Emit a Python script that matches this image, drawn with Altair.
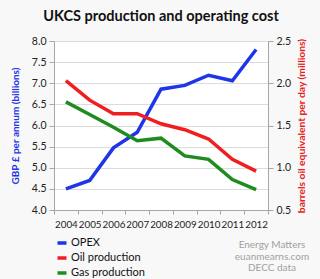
import altair as alt
import pandas as pd

years = ["2004", "2005", "2006", "2007", "2008", "2009", "2010", "2011", "2012"]
opex = [4.50, 4.70, 5.47, 5.84, 6.86, 6.95, 7.19, 7.06, 7.80]
oil = [2.03, 1.80, 1.64, 1.64, 1.52, 1.45, 1.34, 1.10, 0.96]
gas = [1.78, 1.63, 1.48, 1.32, 1.35, 1.14, 1.10, 0.86, 0.74]
series_names = ["OPEX", "Oil production", "Gas production"]
series_colors = ["#1f35e8", "#f01e1e", "#1e8c1e"]
left_ticks = [4.0, 4.5, 5.0, 5.5, 6.0, 6.5, 7.0, 7.5, 8.0]
right_ticks = [0.5, 1.0, 1.5, 2.0, 2.5]
credits = ["Energy Matters", "euanmearns.com", "DECC data"]

FONT = "Lato"

df_left = pd.DataFrame({"year": years, "value": opex, "series": "OPEX"})
df_right = pd.concat([
    pd.DataFrame({"year": years, "value": oil, "series": "Oil production"}),
    pd.DataFrame({"year": years, "value": gas, "series": "Gas production"}),
])

xenc = alt.X("year:O", bandPosition=0.5,
             scale=alt.Scale(type="band", paddingInner=0, paddingOuter=0),
             axis=alt.Axis(title=None, labelAngle=0, tickBand="extent",
                           labelFontSize=9.8, labelColor="#222", labelFont=FONT,
                           domainColor="#a6a6a6", tickColor="#a6a6a6", tickSize=4,
                           labelPadding=5, grid=False))

color = alt.Color("series:N",
                  scale=alt.Scale(domain=series_names, range=series_colors),
                  legend=alt.Legend(title=None, orient="none", legendX=0, legendY=194,
                                    symbolType="M-0.75,0H0.75", symbolStrokeWidth=3.5,
                                    symbolSize=144, labelFontSize=11, labelFont=FONT,
                                    labelColor="#111", labelOffset=1, rowPadding=0,
                                    padding=0))

left = alt.Chart(df_left).mark_line(strokeWidth=3.5).encode(
    x=xenc,
    y=alt.Y("value:Q", scale=alt.Scale(domain=[4, 8], nice=False, zero=False),
            axis=alt.Axis(title="GBP £ per annum (billions)", values=left_ticks, format=".1f",
                          titleColor="#1f35e8", titleFont=FONT, titleFontSize=10,
                          titleFontWeight="bold", titlePadding=11,
                          labelFont=FONT, labelFontSize=10.5, labelColor="#222",
                          domainColor="#a6a6a6", tickColor="#a6a6a6", tickSize=5,
                          gridColor="#dcdcdc", grid=True, labelPadding=3)),
    color=color,
)

right = alt.Chart(df_right).mark_line(strokeWidth=3.5).encode(
    x=xenc,
    y=alt.Y("value:Q", scale=alt.Scale(domain=[0.5, 2.5], nice=False, zero=False),
            axis=alt.Axis(title="barrels oil equivalent per day (millions)", orient="right",
                          values=right_ticks, format=".1f", titleAngle=270,
                          titleBaseline="top",
                          titleColor="#e81e1e", titleFont=FONT, titleFontSize=10.3,
                          titleFontWeight="bold", titlePadding=6, labelAlign="left",
                          labelFont=FONT, labelFontSize=10.5, labelColor="#222",
                          domainColor="#a6a6a6", tickColor="#a6a6a6", tickSize=5,
                          grid=False, labelPadding=3)),
    color=color,
)

credit_df = pd.DataFrame({"t": ["\n".join(credits)]})
credit = alt.Chart(credit_df).mark_text(
    font=FONT, fontSize=10, color="#a0a0a0", align="center", baseline="top",
    lineBreak="\n", lineHeight=11.5,
).encode(text="t:N", x=alt.value(218), y=alt.value(199))

chart = alt.layer(left, right, credit).resolve_scale(y="independent").properties(
    width=214, height=169,
    padding={"left": 54, "top": 41, "right": 52, "bottom": 69},
    autosize=alt.AutoSizeParams(type="none"),
    background="#f8f8f8",
    title=alt.Title("UKCS production and operating cost", font=FONT, fontSize=14.5,
                    fontWeight="bold", color="#111", anchor="middle", offset=12),
).configure_view(stroke=None, fill="white")

chart.save("out.html", embed_options={"renderer": "svg", "actions": False})
